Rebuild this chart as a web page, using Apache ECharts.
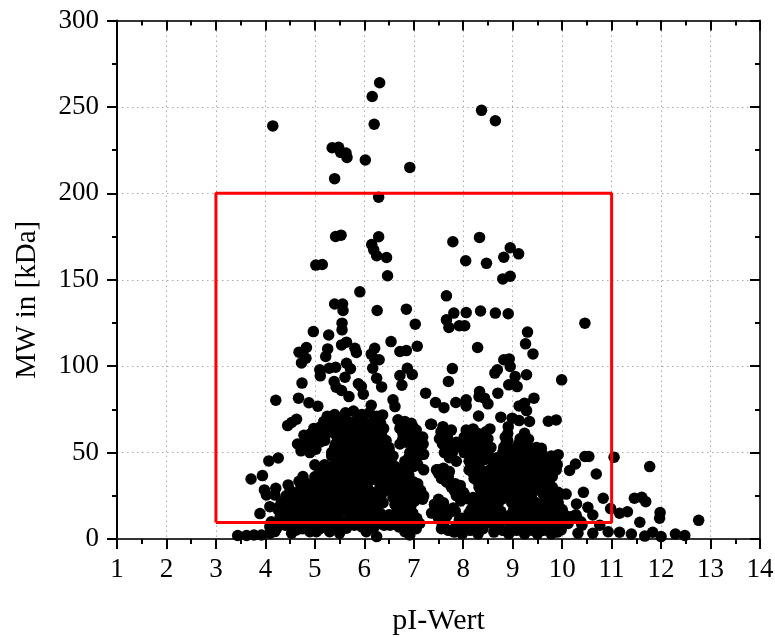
<!DOCTYPE html>
<html><head><meta charset="utf-8">
<style>html,body{margin:0;padding:0;background:#fff}#c{width:775px;height:637px}</style>
<script src="https://cdn.jsdelivr.net/npm/echarts@6/dist/echarts.min.js"></script>
</head><body><div id="c"></div>
<script>
const upperProteins=[[6.31,264],[6.16,256],[6.2,240],[4.15,239],[8.37,248],[8.65,242],[5.35,226.4],[5.48,226.6],[5.52,223.7],[5.63,223.3],[5.65,220.8],[6.02,219.3],[6.92,215],[5.4,208.5],[6.29,197.8],[5.42,175],[5.53,175.8],[6.29,174.9],[6.15,170.4],[6.19,167.3],[6.25,163.9],[6.45,162.9],[5.02,158.5],[5.15,158.8],[6.47,152.3],[7.79,172],[8.33,174.5],[8.05,161],[8.47,159.5],[8.95,168.5],[9.12,165],[8.82,163],[8.95,152],[8.8,150.5],[5.91,143],[5.4,136],[5.56,136],[5.57,132.2],[6.26,132.2],[6.85,133],[7.03,124.3],[5.55,124.9],[5.55,121],[4.97,120],[5.28,118],[6.54,114.2],[7.07,111.5],[5.64,113.9],[5.54,112.3],[5.81,110.4],[5.84,107.9],[6.21,110.4],[7.66,140.7],[7.81,130.7],[7.66,126.8],[7.71,122.4],[7.92,123.4],[8.03,123.4],[8.06,131],[8.35,131.9],[8.65,130.7],[8.91,130.3],[10.46,124.9],[9.3,119.7],[9.26,112.9],[9.41,107.1],[8.29,110.8]];
const middleProteins=[[6.14,107],[6.21,104],[6.3,103.7],[6.17,98.8],[5.1,97.9],[5.11,94.4],[5.29,98.8],[5.42,99.4],[5.64,101.7],[5.72,98.5],[5.61,93.6],[4.68,108.1],[4.83,110.8],[4.82,104.6],[4.73,101.9],[5.26,110],[5.22,105.6],[5.39,91.1],[5.43,87.8],[5.54,85.9],[5.88,89.8],[5.94,88.2],[5.98,83.8],[5.69,82.4],[4.74,90.2],[4.21,80.3],[4.67,81.5],[4.88,78.8],[5.06,76.8],[6.25,93],[6.35,88],[6.72,108.5],[6.85,109],[6.87,98.8],[6.72,94.6],[6.97,95.2],[6.76,89],[7.24,84.4],[7.44,79],[6.58,80.5],[6.62,76.6],[6.14,77.4],[6.37,71.8],[7.34,66.4],[4.63,69.3],[4.53,67.4],[4.45,65.6],[7.78,98.6],[7.7,91.1],[8.82,103.7],[8.93,104.2],[8.95,99.8],[8.69,97.9],[8.64,96],[9.05,94],[9.28,95],[8.92,89.2],[9.09,88.2],[9.99,92.1],[8.33,85.3],[8.32,82.4],[8.43,81.5],[8.5,78.2],[8.7,84.4],[8.06,80.5],[8.06,77],[7.85,79],[7.61,76],[9.43,81.5],[9.24,78.6],[9.13,77],[9.28,74.3],[8.31,71.2],[8.76,70.5],[8.99,69.9],[9.13,68.5],[9.34,68],[9.72,68.1],[9.88,68.9],[7.36,66.4],[7.59,65],[7.76,63],[8.06,63],[8.2,63.7],[8.54,63.7],[8.91,65],[9.24,61.2],[9.32,57.7],[7.56,60],[7.63,54],[7.9,55],[8.87,56],[9.58,52.5],[9.92,48.8],[10.46,47.7],[10.54,47.7],[11.05,47.3],[11.77,41.9],[10.27,43.4],[10.15,39.6],[10.69,37.6]];
const lowerEdgeProteins=[[4.26,46.9],[4.07,45.2],[5,42.9],[3.94,36.7],[3.71,34.7],[4.76,36.1],[4.68,33.4],[4.46,31.3],[3.98,28.4],[4.21,29.3],[4.02,25.5],[4.19,25.5],[3.89,14.7],[4.09,18.7],[4.26,16.8],[3.44,2],[3.62,2],[3.77,2.3],[3.92,2.3],[4.09,3.3],[4.19,4.3],[4.09,7.1],[4.23,6.2],[4.53,3.3],[4.63,5.2],[4.9,4.2],[5.03,4.2],[5.3,4.2],[5.5,3.3],[5.64,6.2],[6.04,4.2],[6.25,1.4],[6.52,8],[6.82,4.2],[6.92,2.3],[6.35,12],[10.43,27],[10.83,23.6],[11.46,23.6],[11.61,24.1],[11.69,21.6],[10.29,20.3],[10.52,18.3],[10.62,13.9],[10.98,17.6],[11.16,14.9],[11.32,15.8],[11.98,15.3],[11.97,12],[11.57,9.7],[12.76,10.8],[10.76,8],[11.16,3.9],[11.4,2.9],[11.67,1.7],[11.83,3.9],[12,1.4],[12.29,2.9],[12.48,2],[10.93,4.2],[10.32,3.3],[10.62,3.3],[9.98,5.2],[10.05,11],[10.2,13],[10.38,10]];
const acidicCluster=[[5.62,73],[5.78,74],[5.95,72],[6.1,73],[6.25,71],[5.25,71],[5.4,72],[5.5,69],[5.18,68],[5.35,67],[5.68,68],[5.85,69],[6.02,67],[6.18,68],[6.33,67],[6.68,69],[6.82,68],[6.95,67],[4.98,64],[5.12,65],[5.27,63],[5.48,64],[5.62,63],[5.78,64],[5.94,62],[6.1,64],[6.26,63],[6.39,64],[6.72,64],[6.88,65],[7.05,63],[4.78,60],[4.92,61],[5.05,59],[5.2,60],[5.53,59],[5.7,60],[5.86,58],[6.02,60],[6.18,59],[6.35,60],[6.92,60],[7.18,59],[4.65,55],[4.8,56],[4.95,54],[5.1,56],[5.42,55],[5.58,54],[5.74,56],[5.9,54],[6.05,55],[6.22,54],[6.38,56],[6.5,53],[6.72,55],[6.85,56],[7.03,54],[7.19,55],[4.72,51],[4.9,50],[5.02,52],[5.34,50],[5.5,51],[5.66,49],[5.82,51],[5.98,49],[6.14,51],[6.3,49],[6.46,50],[6.92,50],[7.08,51],[7.2,49],[5.42,46],[5.58,45],[5.74,46],[5.9,44],[6.06,46],[6.22,45],[6.38,46],[6.55,44],[6.82,45],[7,46],[7.08,43],[5.12,40],[5.28,41],[5.44,39],[5.6,41],[5.76,40],[5.92,41],[6.08,39],[6.24,41],[6.4,40],[6.56,39],[6.86,39],[7.2,40],[7.48,40],[5,36],[5.16,35],[5.32,36],[5.48,34],[5.64,36],[5.8,35],[5.96,36],[6.12,34],[6.28,36],[6.44,35],[6.6,35],[6.8,36],[7,33],[4.72,30],[4.88,31],[5.04,29],[5.2,31],[5.36,30],[5.52,31],[5.68,29],[5.84,31],[6,30],[6.32,30],[6.52,31],[6.68,29],[6.84,30],[7,31],[7.1,29],[4.42,25],[4.58,26],[4.74,24],[4.9,26],[5.06,25],[5.22,26],[5.38,24],[5.54,26],[5.7,25],[5.86,26],[6.02,24],[6.18,26],[6.34,25],[6.58,24],[6.74,26],[6.9,25],[7.06,24],[7.2,25],[4.32,21],[4.48,20],[4.64,21],[4.8,19],[4.96,21],[5.12,20],[5.28,21],[5.44,19],[5.6,20],[5.76,21],[5.92,19],[6.08,21],[6.24,20],[6.38,21],[6.62,20],[6.78,21],[6.94,19],[7.42,20],[4.36,15],[4.52,16],[4.68,14],[4.84,16],[5,15],[5.14,16],[5.3,14],[5.46,15],[5.62,16],[5.78,14],[5.94,15],[6.32,15],[6.5,14],[6.66,16],[6.82,14],[6.98,15],[4.35,11],[4.92,10],[5.08,11],[5.24,9],[5.4,11],[5.56,10],[5.72,11],[5.88,10],[6.12,10],[6.28,9],[6.44,11],[6.6,10],[6.82,9],[7,11],[7.12,9],[4.12,10],[4.25,8],[4.6,7],[4.75,6],[4.95,7],[5.1,6],[5.36,7],[5.52,6],[5.95,7],[6.1,6],[6.85,6],[7.05,6]];
const acidicFill=[[5.3,66],[5.62,67],[5.78,66],[5.95,65],[6.12,66],[6.3,65],[6.8,66],[6.98,65],[5.02,62],[5.2,63],[5.4,61],[5.72,62],[5.88,61],[6.04,62],[6.2,61],[6.35,62],[6.78,61],[7,62],[4.85,58],[5,57],[5.2,57],[5.46,58],[5.62,57],[5.8,58],[5.96,57],[6.12,57],[6.28,58],[6.44,57],[6.78,58],[6.95,57],[7.12,58],[4.75,53],[4.98,53],[5.4,53],[5.56,52],[5.72,53],[5.88,52],[6.04,53],[6.2,52],[6.36,53],[6.5,51],[7,52],[7.15,53],[5.34,48],[5.5,47],[5.66,48],[5.82,47],[5.98,48],[6.14,47],[6.3,48],[6.46,47],[6.58,48],[6.9,47],[7.1,48],[5.2,43],[5.36,42],[5.52,43],[5.68,42],[5.84,43],[6,42],[6.16,43],[6.32,42],[6.48,43],[6.62,42],[6.8,41],[7,42],[5.08,38],[5.24,37],[5.4,38],[5.56,37],[5.72,38],[5.88,37],[6.04,38],[6.2,37],[6.36,38],[6.52,37],[6.72,38],[6.9,37],[4.8,33],[4.96,32],[5.12,33],[5.28,32],[5.44,33],[5.6,32],[5.76,33],[5.92,32],[6.08,33],[6.3,33],[6.46,32],[6.6,33],[6.76,32],[6.92,33],[7.08,32],[4.5,28],[4.66,27],[4.82,28],[4.98,27],[5.14,28],[5.3,27],[5.46,28],[5.62,27],[5.78,28],[5.94,27],[6.1,28],[6.26,27],[6.42,28],[6.62,27],[6.8,28],[6.96,27],[7.14,28],[4.4,23],[4.56,22],[4.72,23],[4.88,22],[5.04,23],[5.2,22],[5.36,23],[5.52,22],[5.68,23],[5.84,22],[6,23],[6.16,22],[6.3,23],[6.7,22],[6.86,23],[7.02,22],[7.18,23],[4.25,18],[4.44,17],[4.6,18],[4.76,17],[4.92,18],[5.08,17],[5.24,18],[5.4,17],[5.56,18],[5.72,17],[5.88,18],[6.04,17],[6.18,18],[6.7,18],[6.88,17],[4.3,13],[4.48,12],[4.62,13],[4.78,12],[4.96,13],[5.12,12],[5.28,13],[5.44,12],[5.96,12],[6.14,13],[6.3,12],[6.46,13],[6.72,12],[6.9,13],[7.06,12],[4.2,7],[4.4,8],[4.8,7],[5,8],[5.2,7],[5.46,8],[5.62,7],[5.8,8],[6.2,7],[6.4,8],[6.7,7],[6.95,8]];
const basicCluster=[[7.52,58],[7.68,59],[8.02,59],[8.18,58],[8.34,59],[8.5,58],[8.85,59],[7.58,55],[7.68,54],[7.86,56],[7.96,53],[8.12,55],[8.28,54],[8.44,55],[8.56,53],[8.86,54],[8.96,52],[9.12,55],[9.28,54],[7.62,50],[7.78,50],[8.02,50],[8.18,49],[8.34,51],[8.5,49],[8.8,50],[8.96,49],[9.1,50],[9.26,49],[9.42,51],[9.6,49],[7.86,45],[8.12,45],[8.28,44],[8.44,46],[8.6,45],[8.76,44],[8.9,46],[9.04,44],[9.2,45],[9.36,46],[9.52,44],[9.68,45],[9.86,45],[7.46,40],[7.6,41],[7.72,39],[8.12,40],[8.28,41],[8.42,39],[8.54,40],[8.7,41],[8.86,39],[9.02,40],[9.18,41],[9.34,39],[9.5,40],[9.66,41],[9.88,40],[7.56,35],[7.7,36],[8.22,35],[8.38,36],[8.56,34],[8.72,35],[8.88,36],[9.04,34],[9.2,35],[9.36,36],[9.52,34],[9.68,35],[9.8,36],[7.76,30],[7.94,31],[8.32,30],[8.48,31],[8.64,29],[8.8,30],[9.02,31],[9.18,29],[9.34,30],[9.5,31],[9.66,29],[9.8,30],[7.86,25],[8.02,26],[8.2,24],[8.42,25],[8.58,26],[8.74,24],[8.9,25],[9.06,26],[9.22,24],[9.38,25],[9.62,26],[9.78,24],[9.94,25],[10.08,26],[7.42,20],[7.6,21],[8.22,20],[8.38,21],[8.54,19],[8.7,20],[8.98,21],[9.14,19],[9.3,20],[9.48,21],[9.62,20],[9.78,19],[9.92,21],[7.36,15],[7.52,16],[7.68,14],[7.84,16],[8.12,15],[8.28,16],[8.44,14],[8.6,15],[8.76,16],[8.96,14],[9.12,15],[9.28,16],[9.44,14],[9.6,15],[9.76,16],[9.9,14],[10.02,15],[10.28,14],[7.56,10],[7.92,11],[8.08,9],[8.26,10],[8.42,11],[8.58,9],[8.74,10],[8.9,11],[9.06,9],[9.22,10],[9.38,11],[9.5,9],[9.62,10],[9.78,11],[9.94,9],[10.12,9],[10.4,8],[7.56,6],[7.7,5],[7.82,4],[7.98,3],[8.14,5],[8.3,3],[8.4,6],[8.62,4],[8.8,5],[8.92,3],[9.08,5],[9.24,3],[9.4,5],[9.5,3],[9.62,5],[9.78,3],[9.9,4]];
const basicFill=[[7.55,62],[7.68,61],[8.1,62],[8.3,61],[8.46,62],[8.9,61],[7.6,57],[8.1,57],[8.26,56],[8.42,57],[8.9,57],[9.15,58],[7.7,52],[8.06,53],[8.22,52],[8.38,53],[8.52,52],[8.82,53],[9,52],[9.18,53],[9.34,52],[9.48,53],[7.72,47],[8.2,47],[8.36,48],[8.68,47],[8.84,48],[9,47],[9.16,48],[9.32,47],[9.48,48],[9.64,47],[9.78,48],[8.16,43],[8.32,42],[8.62,43],[8.78,42],[8.94,43],[9.1,42],[9.26,43],[9.42,42],[9.58,43],[9.74,42],[9.9,43],[7.5,38],[7.64,37],[8.2,38],[8.36,37],[8.52,38],[8.68,37],[8.84,38],[9,37],[9.16,38],[9.32,37],[9.48,38],[9.64,37],[9.8,38],[7.66,33],[7.84,32],[8.3,33],[8.46,32],[8.62,33],[8.78,32],[8.94,33],[9.1,32],[9.26,33],[9.42,32],[9.58,33],[9.74,32],[7.82,28],[8,27],[8.36,28],[8.52,27],[8.7,28],[8.96,27],[9.12,28],[9.28,27],[9.44,28],[9.6,27],[9.76,28],[9.92,27],[7.5,23],[7.95,22],[8.12,23],[8.3,22],[8.46,23],[8.62,22],[8.78,23],[9.04,22],[9.2,23],[9.36,22],[9.7,23],[9.86,22],[7.48,18],[7.64,17],[7.8,18],[8.16,17],[8.32,18],[8.48,17],[8.64,18],[9.02,17],[9.18,18],[9.34,17],[9.5,18],[9.66,17],[9.82,18],[10,17],[7.5,12],[7.66,13],[7.98,12],[8.14,13],[8.3,12],[8.46,13],[8.62,12],[8.78,13],[8.94,12],[9.1,13],[9.26,12],[9.42,13],[9.58,12],[9.74,13],[9.9,12],[10.1,13],[10.3,12],[7.6,8],[7.85,7],[8,8],[8.18,7],[8.34,8],[8.7,7],[8.98,8],[9.14,7],[9.3,8],[9.46,7],[9.66,8],[9.84,7]];
const regionPI=[3,3,11,11,3];
const regionMW=[9.5,200,200,9.5,9.5];
const xTicks={min:1,max:14,step:1};
const yTicks={min:0,max:300,step:50};
const axisFont='"Liberation Serif"';
const allPoints=[].concat(upperProteins,middleProteins,lowerEdgeProteins,acidicCluster,acidicFill,basicCluster,basicFill);
const chart=echarts.init(document.getElementById('c'),null,{renderer:'canvas'});
const lbl={color:'#000',fontFamily:axisFont,fontSize:27};
const splitL={show:true,lineStyle:{color:'#aaa',type:[1.5,3.5],width:1}};
const lineBlack={show:true,onZero:false,lineStyle:{color:'#000',width:2}};
const lineDark={show:true,onZero:false,lineStyle:{color:'#333',width:2}};
const tickOut={show:true,length:10,lineStyle:{color:'#000',width:2}};
const tickIn={show:true,inside:true,length:10,lineStyle:{color:'#000',width:2}};
const minor={show:true,splitNumber:2,length:5,lineStyle:{color:'#000',width:2}};
chart.setOption({
 animation:false,backgroundColor:'#fff',
 grid:{left:117,right:15,top:20.5,bottom:98,containLabel:false,outerBoundsMode:'none'},
 xAxis:[
  {type:'value',min:xTicks.min,max:xTicks.max,interval:xTicks.step,position:'bottom',
   name:'pI-Wert',nameLocation:'middle',nameGap:67,nameTextStyle:{color:'#000',fontFamily:axisFont,fontSize:30},
   axisLine:lineDark,axisTick:tickOut,minorTick:minor,
   axisLabel:Object.assign({margin:17,showMinLabel:true,showMaxLabel:true},lbl),splitLine:splitL},
  {type:'value',min:xTicks.min,max:xTicks.max,interval:xTicks.step,position:'top',
   axisLine:lineDark,axisTick:tickIn,minorTick:minor,axisLabel:{show:false},splitLine:{show:false}}
 ],
 yAxis:[
  {type:'value',min:yTicks.min,max:yTicks.max,interval:yTicks.step,position:'left',
   name:'MW in [kDa]',nameLocation:'middle',nameGap:75,nameTextStyle:{color:'#000',fontFamily:axisFont,fontSize:29,padding:[0,40,0,0]},
   axisLine:lineBlack,axisTick:tickOut,minorTick:minor,
   axisLabel:Object.assign({margin:18},lbl),splitLine:splitL},
  {type:'value',min:yTicks.min,max:yTicks.max,interval:yTicks.step,position:'right',
   axisLine:lineDark,axisTick:tickIn,minorTick:minor,axisLabel:{show:false},splitLine:{show:false}}
 ],
 series:[
  {type:'scatter',name:'Proteine',data:allPoints,symbol:'circle',symbolSize:11.5,itemStyle:{color:'#000',opacity:1},z:3,clip:true},
  {type:'line',name:'Region',data:regionPI.map((v,i)=>[v,regionMW[i]]),symbol:'none',silent:true,lineStyle:{color:'#f00',width:3},z:4}
 ]
});
</script></body></html>
